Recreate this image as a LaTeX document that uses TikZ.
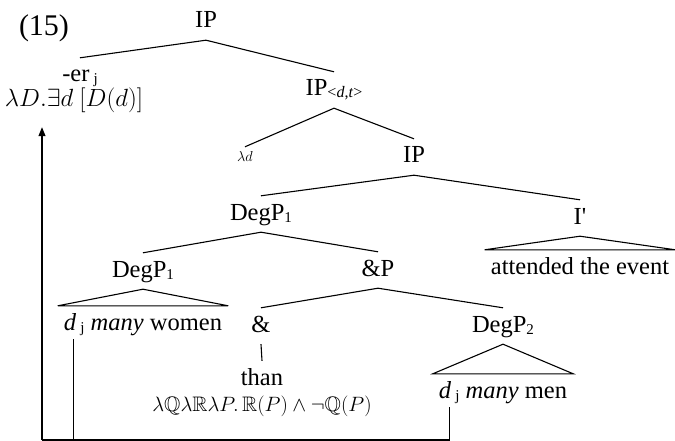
\documentclass[tikz,border=0pt]{standalone}
\usepackage{fontspec}
\usepackage{amssymb}
\setmainfont{Liberation Serif}
\usetikzlibrary{arrows.meta}

\tikzstyle{line} = [line width=1.1pt]
\tikzstyle{arw} = [-{Triangle[length=9pt,width=7pt]}, line width=1.1pt, shorten >=8pt]
\tikzstyle{lbl} = [anchor=base, inner sep=0pt, text height=24pt, text depth=12pt, font=\fontsize{24.5}{24.5}\selectfont]
\tikzstyle{leaf} = [lbl, inner xsep=6pt, text depth=9pt]

\newcommand{\low}[1]{\raisebox{-2pt}{\fontsize{15}{15}\selectfont #1}}

\begin{document}
\begin{tikzpicture}[x=1pt,y=-1pt]
\useasboundingbox (0,0) rectangle (675,441);

\node[anchor=base, font=\fontsize{30}{30}\selectfont] (num) at (44,36) {(15)};

\node[lbl] (root) at (206,28) {IP};
\node[lbl] (er) at (80,82) {-er\,\low{j}};
\node[lbl, text height=13pt] (form) at (74,107) {$\lambda D.\exists d\ [D(d)]$};
\node[lbl] (ipdt) at (334,96) {IP\low{\fontsize{16}{16}\selectfont<\emph{d},\emph{t}>}};
\node[lbl, text height=15pt, font=\fontsize{15}{15}\selectfont] (lamd) at (245,162) {$\lambda d$};
\node[lbl] (ip) at (414,163) {IP};
\node[lbl] (degp) at (261,220) {DegP\low{1}};
\node[lbl] (ibar) at (580,224) {I\textquotesingle};
\node[lbl] (degpl) at (143,277) {DegP\low{1}};
\node[lbl] (andp) at (378,276) {\&P};
\node[leaf] (attend) at (580,274) {attended the event};
\node[leaf] (women) at (143,330) {\emph{d}\,\low{j} \emph{many} women};
\node[lbl] (amp) at (261,332) {\&};
\node[lbl] (degp2) at (503,332) {DegP\low{2}};
\node[leaf] (men) at (503,398) {\emph{d}\,\low{j} \emph{many} men};
\node[lbl] (than) at (262,385) {than};
\node[anchor=base, inner sep=0pt, font=\fontsize{21}{21}\selectfont] (comp) at (262,411)
  {$\lambda\mathbb{Q}\lambda\mathbb{R}\lambda P.\,\mathbb{R}(P)\wedge\neg\mathbb{Q}(P)$};

% branches
\draw[line] (er.north) -- (root.south) -- (ipdt.north);
\draw[line] (lamd.north) -- (ipdt.south) -- (ip.north);
\draw[line] (degp.north) -- (ip.south) -- (ibar.north);
\draw[line] (degpl.north) -- (degp.south) -- (andp.north);
\draw[line] (amp.north) -- (andp.south) -- (degp2.north);
\draw[line] (amp.south) -- (than.north);

% triangles
\draw[line] (ibar.south) -- (attend.north west) -- (attend.north east) -- cycle;
\draw[line] (degpl.south) -- (women.north west) -- (women.north east) -- cycle;
\draw[line] (degp2.south) -- (men.north west) -- (men.north east) -- cycle;

% movement
\coordinate (bot) at (42,440);
\coordinate (wtrace) at ([xshift=16pt]women.south west);
\coordinate (mtrace) at ([xshift=17pt]men.south west);
\draw[line] (wtrace) -- (wtrace |- bot);
\draw[line] (mtrace) |- (bot);
\draw[arw] (bot) -- (bot |- form.south);

\end{tikzpicture}
\end{document}
